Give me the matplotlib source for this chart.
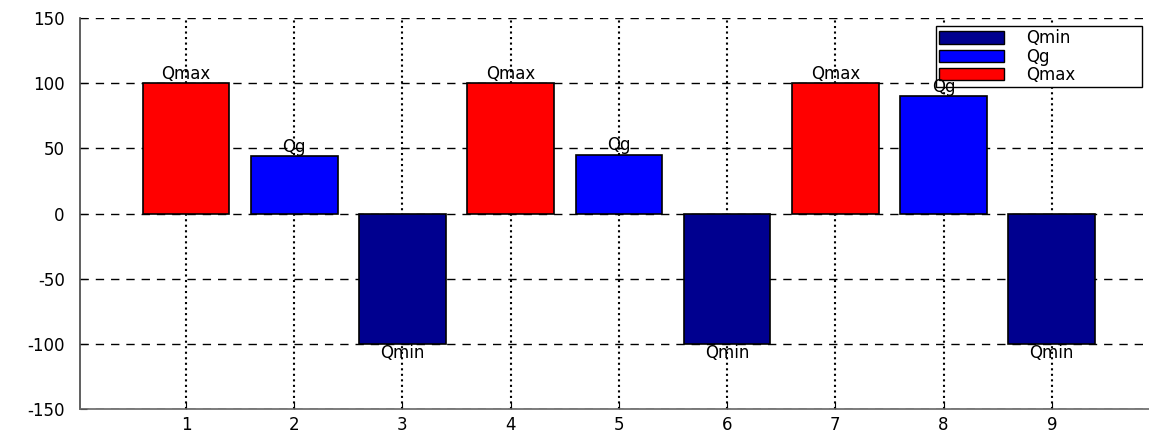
import matplotlib
matplotlib.use('Agg')
import matplotlib.pyplot as plt
from matplotlib.patches import Patch

plt.rcParams['axes.unicode_minus'] = False

positions = [1, 2, 3, 4, 5, 6, 7, 8, 9]
values = [100, 44, -100, 100, 45, -100, 100, 90, -100]
names = ['Qmax', 'Qg', 'Qmin', 'Qmax', 'Qg', 'Qmin', 'Qmax', 'Qg', 'Qmin']
yticks = [-150, -100, -50, 0, 50, 100, 150]

colors = {'Qmax': '#ff0000', 'Qg': '#0000ff', 'Qmin': '#00008f'}

fig = plt.figure(figsize=(11.49, 4.32), dpi=100)
ax = fig.add_axes([80 / 1149, 1 - 409 / 432, 1080 / 1149, 391 / 432])

ax.bar(positions, values, width=0.8, color=[colors[n] for n in names],
       edgecolor='black', linewidth=1.2, zorder=3)

for x, v, n in zip(positions, values, names):
    if v >= 0:
        ax.text(x, v + 0.5, n, ha='center', va='bottom', fontsize=12, zorder=6)
    else:
        ax.text(x, v - 0.5, n, ha='center', va='top', fontsize=12, zorder=6)

ax.set_xlim(0.02, 10)
ax.set_ylim(-150, 150)
ax.set_xticks(positions)
ax.set_yticks(yticks)
ax.tick_params(direction='in', length=5, labelsize=12, colors='black')
ax.tick_params(axis='x', pad=5)
ax.tick_params(axis='y', pad=11)

ax.xaxis.grid(True, linestyle=':', color='black', linewidth=1.5, zorder=0)
ax.yaxis.grid(True, linestyle=(0, (6, 5)), color='black', linewidth=1.0, zorder=0)
ax.spines['top'].set_visible(False)
ax.spines['right'].set_visible(False)
ax.spines['left'].set_color('#444444')
ax.spines['bottom'].set_color('#666666')
ax.spines['left'].set_linewidth(1.2)
ax.spines['bottom'].set_linewidth(1.2)

handles = [Patch(facecolor=colors['Qmin'], edgecolor='black', label='Qmin'),
           Patch(facecolor=colors['Qg'], edgecolor='black', label='Qg'),
           Patch(facecolor=colors['Qmax'], edgecolor='black', label='Qmax')]
leg = ax.legend(handles=handles, loc='upper left', mode='expand',
                bbox_to_anchor=(936 / 1149, 1 - 86 / 432, 206 / 1149, 60 / 432),
                bbox_transform=fig.transFigure, fontsize=12, fancybox=False,
                framealpha=1, edgecolor='black', handlelength=3.9, handleheight=0.75,
                handletextpad=1.3, labelspacing=0.02, borderpad=0.2, borderaxespad=0)
leg.get_frame().set_linewidth(1.0)
leg.set_zorder(4)

fig.savefig('out.png', dpi=100)
